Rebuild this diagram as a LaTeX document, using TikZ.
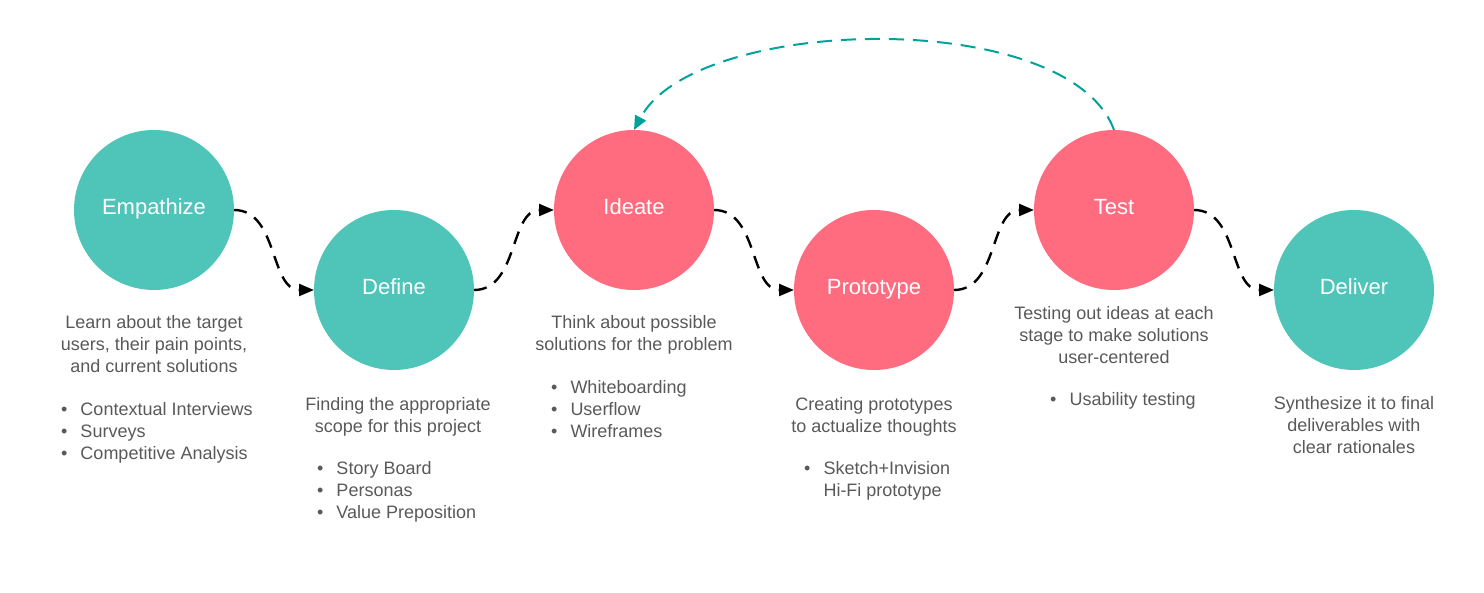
\documentclass[tikz,border=0pt]{standalone}
\usepackage{fontspec}
\setmainfont{Liberation Sans}
\usepackage{xcolor}
\usetikzlibrary{arrows.meta,positioning}
\definecolor{stageteal}{HTML}{4FC4B9}
\definecolor{stagepink}{HTML}{FF6B7F}
\definecolor{backteal}{HTML}{00A39B}
\definecolor{bodygray}{HTML}{595959}

\begin{document}
\begin{tikzpicture}[
        x=1pt, y=1pt,
        stage/.style={circle, minimum size=160pt, inner sep=0pt, outer sep=0pt, text height=16pt, text depth=6pt, text=white, font=\fontsize{22}{26}\selectfont},
        desc/.style={anchor=base, inner sep=0pt, text=bodygray, font=\fontsize{18}{22}\selectfont},
        items/.style={anchor=base west, inner sep=0pt, text=bodygray, font=\fontsize{18}{22}\selectfont},
        flow/.style={-{Triangle[length=15pt,width=12pt]}, line width=2.4pt, dash pattern=on 13pt off 9pt},
        feedback/.style={-{Triangle[length=14pt,width=12pt]}, backteal, line width=2pt, dash pattern=on 15pt off 9pt}
    ]
        \useasboundingbox (0,0) rectangle (1484,-593);
        % stages
        \node[stage, fill=stageteal] (emp) at (154,-210) {Empathize};
        \node[stage, fill=stageteal, right=80pt of emp, yshift=-80pt] (def) {Define};
        \node[stage, fill=stagepink, right=80pt of def, yshift=80pt] (ide) {Ideate};
        \node[stage, fill=stagepink, right=80pt of ide, yshift=-80pt] (pro) {Prototype};
        \node[stage, fill=stagepink, right=80pt of pro, yshift=80pt] (tst) {Test};
        \node[stage, fill=stageteal, right=80pt of tst, yshift=-80pt] (del) {Deliver};
        % descriptions
        \node[desc] (emptxt) at (154,-329) {\begin{tabular}[t]{@{}c@{}}Learn about the target\\users, their pain points,\\and current solutions\end{tabular}};
        \node[items] (emplist) at (61,-416) {\begin{tabular}[t]{@{}l@{\hspace{13pt}}l@{}}\textbullet & Contextual Interviews\\\textbullet & Surveys\\\textbullet & Competitive Analysis\end{tabular}};
        \node[desc] (deftxt) at (398,-411) {\begin{tabular}[t]{@{}c@{}}Finding the appropriate\\scope for this project\end{tabular}};
        \node[items] (deflist) at (317,-475) {\begin{tabular}[t]{@{}l@{\hspace{13pt}}l@{}}\textbullet & Story Board\\\textbullet & Personas\\\textbullet & Value Preposition\end{tabular}};
        \node[desc] (idetxt) at (634,-329) {\begin{tabular}[t]{@{}c@{}}Think about possible\\solutions for the problem\end{tabular}};
        \node[items] (idelist) at (551,-394) {\begin{tabular}[t]{@{}l@{\hspace{13pt}}l@{}}\textbullet & Whiteboarding\\\textbullet & Userflow\\\textbullet & Wireframes\end{tabular}};
        \node[desc] (protxt) at (874,-411) {\begin{tabular}[t]{@{}c@{}}Creating prototypes\\to actualize thoughts\end{tabular}};
        \node[items] (prolist) at (804,-475) {\begin{tabular}[t]{@{}l@{\hspace{13pt}}l@{}}\textbullet & Sketch+Invision\\ & Hi-Fi prototype\end{tabular}};
        \node[desc] (tsttxt) at (1114,-320) {\begin{tabular}[t]{@{}c@{}}Testing out ideas at each\\stage to make solutions\\user-centered\end{tabular}};
        \node[items] (tstlist) at (1050,-406) {\begin{tabular}[t]{@{}l@{\hspace{13pt}}l@{}}\textbullet & Usability testing\end{tabular}};
        \node[desc] (deltxt) at (1354,-410) {\begin{tabular}[t]{@{}c@{}}Synthesize it to final\\deliverables with\\clear rationales\end{tabular}};
        % connectors
        \draw[flow] (emp.east) to[out=0, in=180] (def.west);
        \draw[flow] (def.east) to[out=0, in=180] (ide.west);
        \draw[flow] (ide.east) to[out=0, in=180] (pro.west);
        \draw[flow] (pro.east) to[out=0, in=180] (tst.west);
        \draw[flow] (tst.east) to[out=0, in=180] (del.west);
        \draw[feedback] (tst.north) to[out=110, in=62, looseness=0.7] (ide.north);
    \end{tikzpicture}
\end{document}
